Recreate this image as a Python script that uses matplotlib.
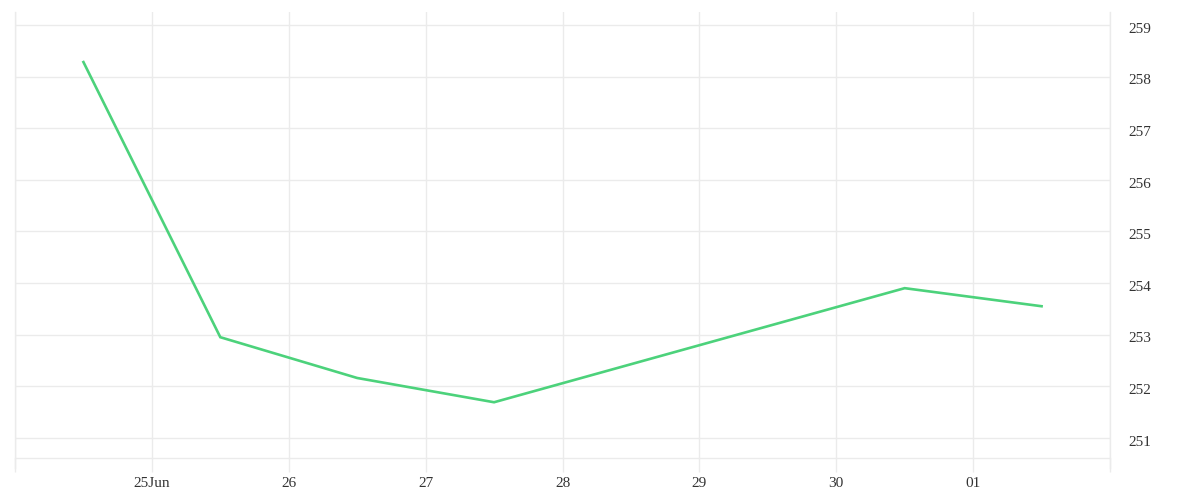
import matplotlib
matplotlib.use("Agg")
import matplotlib.pyplot as plt
import matplotlib.transforms as mtransforms
import datetime as dt

# Data
dates = ["2025-06-24 12:00", "2025-06-25 12:00", "2025-06-26 12:00",
         "2025-06-27 12:00", "2025-06-30 12:00", "2025-07-01 12:00"]
values = [258.28, 252.95, 252.16, 251.69, 253.90, 253.55]
x_tick_days = ["2025-06-24", "2025-06-25", "2025-06-26", "2025-06-27", "2025-06-28",
               "2025-06-29", "2025-06-30", "2025-07-01", "2025-07-02"]
x_tick_labels = ["", "25Jun", "26", "27", "28", "29", "30", "01", ""]
y_ticks = [251, 252, 253, 254, 255, 256, 257, 258, 259]

grid_c = "#ebebeb"
text_c = "#333333"
line_c = "#4cd27b"

plt.rcParams['font.family'] = ['Liberation Serif', 'DejaVu Serif']

fig = plt.figure(figsize=(12, 5), dpi=100)
ax = fig.add_axes([15/1200, 1 - 458/500, (1110 - 15)/1200, (458 - 12)/500])

xd = [dt.datetime.strptime(d, "%Y-%m-%d %H:%M") for d in dates]
ax.plot(xd, values, color=line_c, lw=1.9, solid_joinstyle='miter')

xt = [dt.datetime.strptime(d, "%Y-%m-%d") for d in x_tick_days]
ax.set_xlim(xt[0], xt[-1])
ax.set_xticks(xt)
ax.set_xticklabels(x_tick_labels)
ax.set_ylim(250.61, 259.25)
ax.set_yticks(y_ticks)
ax.yaxis.tick_right()

ax.grid(True, color=grid_c, lw=1)
ax.set_axisbelow(True)
ax.spines['top'].set_visible(False)
for s in ['left', 'right', 'bottom']:
    ax.spines[s].set_color(grid_c)
    ax.spines[s].set_linewidth(1)
ax.spines['left'].set_bounds(250.42, 259.25)
ax.spines['right'].set_bounds(250.42, 259.25)

ax.tick_params(axis='x', length=10, width=1, color=grid_c, labelcolor=text_c,
               labelsize=11, pad=4)
ax.tick_params(axis='y', length=0, labelcolor=text_c, labelsize=11, pad=13)
offset = mtransforms.ScaledTranslation(0, -2/72, fig.dpi_scale_trans)
for lbl in ax.get_yticklabels():
    lbl.set_transform(lbl.get_transform() + offset)

fig.savefig("out.png", dpi=100, facecolor="white")
